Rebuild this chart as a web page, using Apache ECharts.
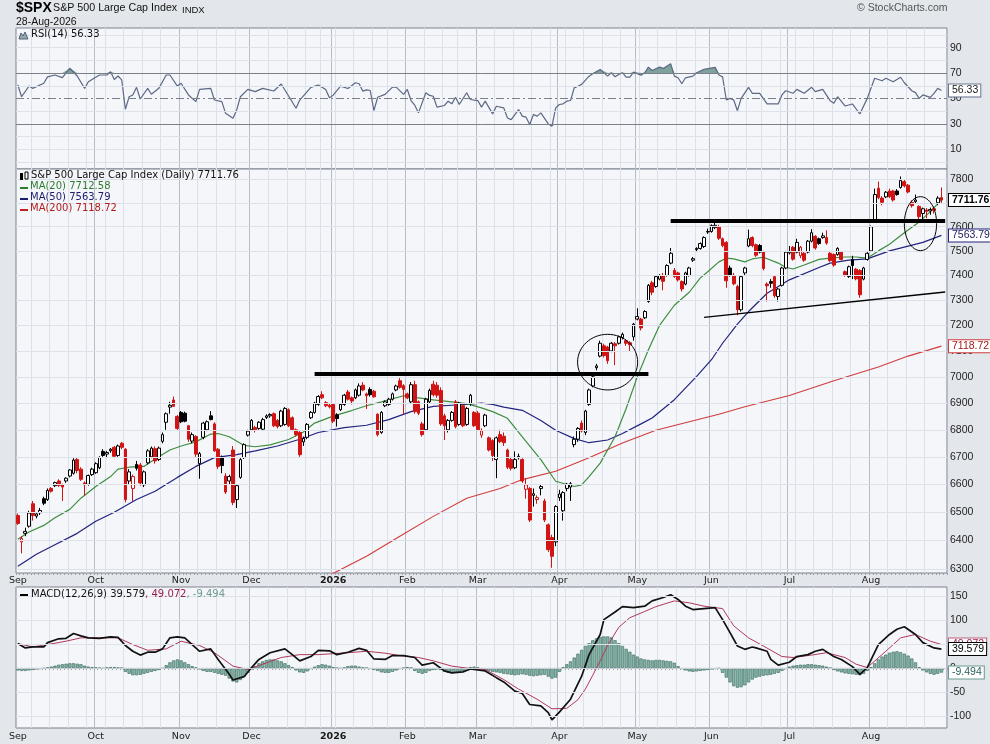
<!DOCTYPE html>
<html>
<head>
<meta charset="utf-8">
<title>$SPX - S&amp;P 500 Large Cap Index</title>
<script src="https://cdn.jsdelivr.net/npm/echarts@6.0.0/dist/echarts.min.js"></script>
<style>
html,body{margin:0;padding:0;background:#e3e6eb;}
#chart{width:990px;height:744px;}
</style>
</head>
<body>
<div id="chart"></div>
<script>
// ---------------- calendar ----------------
const firstDay = '2025-09-02';
const lastDay = '2026-08-28';
const holidays = ['2025-11-27','2025-12-25','2026-01-01','2026-01-19','2026-02-16','2026-04-03','2026-05-25','2026-06-19','2026-07-03'];
const monthNames = ['Jan','Feb','Mar','Apr','May','Jun','Jul','Aug','Sep','Oct','Nov','Dec'];

// ---------------- daily OHLC ----------------
const opens = [
6488,6395,6425,6450,6530,6486,6498,6548,6545,6585,
6595,6612,6598,6612,6630,6640,6690,6655,6605,6600,
6635,6642,6660,6720,6710,6722,6735,6705,6750,6728,
6612,6585,6672,6670,6598,6678,6700,6730,6690,6757,
6828,6885,6912,6850,6865,6862,6815,6758,6775,6675,
6772,6800,6852,6822,6728,6698,6630,6612,6725,6545,
6625,6697,6780,6800,6808,6805,6802,6846,6852,6860,
6835,6815,6820,6875,6845,6800,6790,6755,6772,6845,
6865,6895,6932,6902,6892,6895,6856,6875,6895,6942,
6920,6920,6930,6968,6935,6952,6945,6858,6790,6890,
6895,6915,6950,6985,6966,6935,6905,6970,6905,6822,
6800,6905,6972,6968,6948,6852,6800,6835,6905,6820,
6890,6820,6898,6865,6862,6780,6815,6770,6760,6690,
6782,6776,6725,6690,6660,6697,6690,6582,6585,6560,
6545,6585,6540,6455,6410,6395,6552,6505,6585,6590,
6745,6765,6825,6790,6895,6965,7035,7080,7120,7115,
7100,7128,7130,7152,7140,7132,7155,7225,7225,7230,
7295,7370,7355,7385,7400,7400,7450,7420,7410,7375,
7365,7400,7462,7505,7510,7518,7580,7580,7596,7600,
7550,7535,7430,7400,7355,7262,7410,7520,7555,7525,
7522,7495,7365,7375,7395,7315,7360,7430,7492,7515,
7495,7480,7490,7495,7540,7560,7550,7555,7555,7490,
7485,7485,7495,7415,7395,7465,7425,7420,7385,7465,
7500,7630,7762,7720,7725,7750,7750,7750,7765,7790,
7775,7702,7705,7685,7655,7670,7666,7675,7700,7722];
const highs = [
6495,6415,6445,6505,6540,6500,6515,6555,6585,6590,
6610,6618,6602,6625,6655,6695,6698,6662,6610,6635,
6660,6680,6702,6728,6722,6732,6740,6745,6755,6732,
6655,6635,6685,6678,6650,6728,6738,6738,6738,6790,
6865,6905,6925,6855,6870,6868,6818,6790,6780,6718,
6830,6835,6870,6828,6732,6705,6640,6635,6740,6600,
6695,6750,6800,6840,6815,6832,6845,6858,6862,6865,
6840,6875,6885,6880,6850,6805,6795,6775,6825,6870,
6905,6930,6945,6908,6898,6900,6862,6900,6935,6950,
6925,6955,6975,6980,6940,6960,6950,6862,6870,6910,
6920,6940,6970,6995,6972,6940,6980,6985,6910,6830,
6920,6955,6985,6980,6960,6860,6840,6870,6912,6905,
6895,6885,6935,6870,6870,6805,6860,6775,6765,6775,
6800,6790,6730,6700,6720,6712,6695,6622,6590,6585,
6560,6600,6548,6460,6420,6525,6580,6575,6605,6608,
6775,6810,6835,6875,6955,7010,7050,7140,7128,7120,
7135,7135,7160,7172,7145,7138,7210,7268,7230,7260,
7365,7378,7400,7405,7410,7445,7512,7430,7415,7380,
7415,7435,7475,7515,7535,7560,7592,7610,7630,7608,
7555,7540,7440,7410,7362,7400,7435,7588,7560,7530,
7528,7500,7372,7385,7400,7350,7435,7500,7520,7520,
7550,7520,7495,7545,7590,7565,7555,7575,7585,7495,
7490,7515,7500,7420,7440,7480,7430,7425,7435,7495,
7605,7760,7790,7728,7750,7760,7755,7758,7812,7800,
7780,7710,7735,7690,7680,7678,7680,7685,7728,7765];
const lows = [
6455,6355,6415,6445,6470,6478,6490,6525,6540,6570,
6590,6590,6540,6605,6625,6635,6640,6612,6560,6595,
6630,6638,6655,6700,6695,6715,6695,6700,6728,6535,
6600,6540,6650,6595,6590,6672,6695,6675,6685,6750,
6800,6860,6885,6800,6825,6828,6755,6750,6700,6620,
6765,6795,6835,6718,6655,6640,6565,6600,6525,6515,
6620,6692,6775,6795,6790,6800,6798,6840,6845,6810,
6805,6810,6815,6810,6795,6775,6700,6740,6765,6840,
6860,6890,6915,6885,6880,6825,6812,6870,6890,6910,
6895,6915,6925,6945,6878,6925,6920,6775,6785,6885,
6890,6910,6945,6955,6858,6915,6900,6860,6855,6775,
6795,6900,6925,6920,6815,6762,6790,6830,6805,6815,
6810,6815,6890,6810,6795,6770,6810,6720,6685,6622,
6750,6740,6655,6650,6655,6690,6605,6548,6465,6520,
6530,6560,6465,6360,6305,6380,6540,6470,6575,6540,
6735,6755,6790,6780,6890,6960,7025,7075,7075,7050,
7095,7045,7125,7145,7120,7100,7140,7220,7180,7225,
7290,7320,7350,7380,7340,7395,7445,7390,7375,7335,
7360,7395,7455,7495,7505,7512,7570,7575,7590,7545,
7515,7350,7395,7360,7240,7255,7400,7515,7515,7475,
7490,7420,7295,7350,7310,7295,7355,7425,7485,7460,
7490,7470,7455,7490,7535,7505,7525,7550,7525,7455,
7435,7480,7460,7395,7390,7385,7380,7310,7380,7460,
7495,7625,7715,7690,7720,7720,7705,7730,7760,7765,
7740,7680,7695,7630,7620,7635,7650,7655,7690,7700];
const closes = [
6460,6407,6432,6497,6488,6494,6506,6532,6578,6575,
6606,6596,6590,6622,6652,6688,6650,6618,6598,6632,
6655,6675,6698,6705,6716,6728,6702,6740,6735,6545,
6645,6628,6658,6605,6645,6722,6732,6685,6732,6782,
6860,6892,6888,6805,6830,6832,6765,6782,6710,6712,
6825,6830,6838,6722,6665,6668,6572,6628,6535,6595,
6690,6745,6795,6835,6800,6828,6838,6852,6857,6815,
6812,6870,6880,6815,6800,6782,6708,6768,6820,6865,
6900,6925,6920,6890,6886,6832,6842,6895,6930,6915,
6908,6950,6965,6950,6928,6932,6924,6782,6865,6905,
6915,6935,6965,6960,6952,6920,6970,6868,6862,6782,
6915,6948,6932,6930,6822,6815,6835,6865,6812,6900,
6815,6880,6930,6815,6800,6796,6855,6725,6705,6770,
6756,6752,6662,6658,6690,6702,6612,6598,6472,6566,
6552,6592,6472,6368,6345,6520,6565,6570,6600,6602,
6765,6805,6795,6870,6950,7000,7042,7130,7082,7062,
7130,7120,7155,7165,7130,7124,7205,7235,7190,7255,
7360,7332,7395,7400,7376,7440,7490,7396,7382,7345,
7410,7430,7468,7510,7530,7555,7578,7605,7606,7552,
7522,7378,7402,7366,7262,7395,7430,7550,7522,7482,
7495,7428,7358,7368,7318,7345,7430,7495,7498,7466,
7535,7515,7462,7540,7575,7512,7530,7562,7532,7460,
7442,7510,7465,7402,7435,7440,7386,7322,7430,7490,
7600,7735,7722,7702,7745,7726,7712,7735,7795,7772,
7746,7688,7712,7642,7675,7664,7672,7668,7720,7711.76];

// ---------------- moving averages (read at sampled trading-day indices) ----------------
const ma20Points = [[0,6404],[3,6430],[7,6453],[10,6480],[14,6510],[17,6550],[21,6592],[25,6628],[27,6655],[30,6662],[34,6665],[37,6692],[41,6725],[44,6740],[48,6755],[52,6784],[54,6786],[57,6774],[61,6742],[64,6737],[68,6744],[73,6764],[77,6792],[80,6825],[85,6851],[90,6872],[94,6890],[98,6905],[104,6928],[108,6920],[112,6912],[117,6905],[121,6898],[125,6882],[128,6868],[132,6843],[136,6774],[141,6690],[145,6611],[150,6592],[152,6598],[154,6628],[157,6677],[161,6774],[164,6880],[167,7000],[170,7105],[173,7200],[177,7280],[181,7332],[184,7390],[186,7415],[189,7455],[191,7470],[193,7467],[196,7455],[198,7467],[201,7474],[205,7450],[207,7433],[209,7426],[212,7442],[216,7465],[219,7470],[223,7475],[226,7475],[229,7470],[232,7500],[235,7527],[239,7575],[243,7620],[246,7663],[249,7712.58]];
const ma50Points = [[0,6310],[5,6352],[10,6385],[16,6425],[21,6468],[26,6500],[32,6545],[37,6575],[43,6625],[48,6665],[53,6697],[59,6708],[64,6722],[70,6740],[76,6765],[81,6790],[88,6808],[94,6817],[100,6838],[106,6868],[112,6888],[117,6892],[121,6895],[125,6900],[128,6895],[131,6885],[136,6873],[141,6835],[145,6798],[150,6767],[154,6752],[159,6762],[163,6786],[168,6822],[171,6844],[177,6913],[183,7002],[187,7066],[190,7130],[194,7205],[197,7255],[202,7328],[208,7382],[216,7432],[219,7450],[224,7462],[229,7467],[235,7500],[244,7535],[249,7563.79]];
const ma200Points = [[82,6266],[86,6292],[94,6345],[103,6415],[112,6485],[121,6550],[130,6585],[136,6617],[145,6647],[154,6697],[163,6751],[172,6798],[181,6830],[189,6858],[196,6886],[208,6929],[220,6985],[232,7038],[240,7080],[249,7118.72]];

// ---------------- RSI(14) ----------------
const rsiPoints = [[0,60.6],[1,51.4],[3,59.8],[4,58],[7,62],[8,67],[10,68.5],[12,66.4],[14,73.8],[16,67.7],[18,58],[19,63.2],[22,68.5],[24,68.5],[25,71.1],[26,65],[27,67.7],[28,64.6],[29,41.5],[30,51.4],[31,52.8],[32,58.8],[33,49.6],[35,58],[36,53.3],[38,58],[40,68.5],[41,68.5],[43,59.8],[44,62],[46,52.8],[48,47.5],[49,57.2],[52,58],[53,48.8],[55,47.5],[56,38.3],[58,34.4],[59,41],[60,51.4],[62,57.2],[64,55.4],[66,58],[69,55.9],[71,61.4],[73,52],[75,42.3],[76,48.8],[79,58.8],[81,60.6],[83,57.1],[84,50.5],[85,52.6],[87,59.7],[89,57.9],[91,62.4],[92,61.6],[93,55.8],[94,56.8],[95,56.3],[96,40.5],[97,51],[99,53.2],[101,58.9],[102,58.9],[104,53.2],[105,57.1],[106,48.4],[107,44.7],[108,38.7],[110,54.5],[111,52.4],[112,51.8],[113,43.2],[115,44.5],[116,47.9],[117,45.8],[118,51],[119,45.3],[121,54.5],[122,49.2],[124,48.4],[125,43.2],[126,47.9],[128,37.9],[129,43.9],[131,42.6],[132,34.7],[133,33.4],[135,41.3],[136,36.1],[137,35.3],[138,29.5],[139,37.4],[140,36.1],[141,38.7],[143,30],[144,28.2],[145,42.6],[146,45.3],[147,45.8],[148,47.9],[149,48.4],[150,58.4],[151,59.7],[152,61.1],[154,67.6],[155,69.5],[157,72.9],[159,67.6],[160,70.3],[161,67.1],[162,68.9],[163,70.3],[164,66.8],[165,66.8],[166,70.8],[168,68.4],[169,70.3],[170,74.7],[171,72.1],[173,74.7],[174,73.7],[176,77.4],[177,67.6],[178,66.3],[179,61.6],[180,66.3],[182,67.6],[183,70.3],[185,72.9],[188,74.5],[189,68.5],[190,67],[191,48.8],[192,50.1],[193,48.8],[194,40.4],[195,50.1],[197,58.8],[198,54.1],[200,54.1],[202,45.7],[205,45.7],[206,52.8],[207,56.1],[209,54.1],[210,57.2],[212,54.1],[214,58.8],[215,55.4],[217,57.2],[219,48.3],[220,46.2],[221,51.4],[223,44.1],[225,45.7],[227,37.8],[229,50.1],[231,65.9],[233,64],[234,65.9],[236,63.2],[238,66.7],[239,62.4],[241,56.1],[242,54.6],[243,50.1],[244,52.8],[246,50.9],[247,54.1],[248,58],[249,56.33]];

// ---------------- MACD(12,26,9) ----------------
const macdPoints = [[0,51],[2,42],[4,44],[7,44],[8,53],[11,61],[13,62],[15,72],[17,67],[19,63],[22,62],[25,65],[27,64],[29,47],[31,35],[33,27],[35,33],[37,33],[39,40],[41,63],[43,65],[45,63],[47,49],[49,35],[52,40],[54,18],[57,-13],[58,-25],[61,-18],[63,1],[65,18],[68,32],[72,40],[74,28],[76,15],[79,24],[81,37],[84,36],[86,28],[89,33],[92,41],[94,37],[96,19],[99,18],[101,26],[104,26],[107,22],[109,6],[112,11],[115,-6],[117,-10],[120,-8],[122,-2],[126,-6],[129,-20],[131,-29],[134,-48],[136,-53],[138,-76],[141,-79],[143,-93],[144,-108],[146,-92],[149,-65],[152,-17],[154,28],[157,70],[158,101],[161,117],[163,128],[166,126],[169,129],[171,140],[174,147],[176,153],[178,143],[180,129],[182,122],[185,124],[188,126],[190,101],[192,74],[194,46],[196,39],[198,44],[199,42],[202,35],[203,18],[205,6],[208,12],[210,24],[213,28],[215,35],[217,39],[220,24],[222,18],[225,3],[227,-13],[229,1],[232,49],[235,70],[237,81],[239,86],[242,70],[244,53],[247,42],[249,39.579]];
const signalPoints = [[0,51],[4,44],[8,49],[13,56],[17,63],[22,63],[27,63],[31,49],[35,37],[40,40],[44,56],[49,47],[53,32],[58,4],[62,-3],[66,8],[71,22],[76,28],[81,28],[89,32],[94,35],[99,31],[103,26],[108,22],[112,15],[117,4],[122,-1],[126,-3],[131,-24],[135,-44],[140,-65],[144,-85],[148,-84],[151,-66],[153,-44],[155,-15],[157,15],[159,47],[162,85],[165,105],[169,118],[172,128],[177,140],[181,136],[185,129],[190,124],[193,88],[197,63],[201,46],[206,24],[209,22],[214,27],[218,32],[223,22],[226,8],[229,1],[234,35],[238,63],[242,70],[246,56],[249,49.072]];
const histValues = [
-5,-6,-6,-5,-4,-3,-2,-1,1,3,
5,7,8,9,10,10,9,8,5,3,
2,1,0,-1,1,2,2,1,0,-8,
-12,-15,-15,-14,-12,-10,-8,-6,-4,-1,
6,12,16,18,16,12,8,4,1,-3,
-6,-8,-8,-10,-12,-14,-16,-22,-28,-30,
-25,-18,-10,-3,4,10,14,17,18,18,
16,14,10,6,2,-5,-9,-10,-7,-2,
3,6,8,7,5,2,0,-1,1,4,
5,5,3,1,0,-2,-4,-6,-9,-10,
-10,-8,-5,-2,0,2,1,-6,-10,-12,
-10,-6,-4,-3,-4,-8,-10,-11,-10,-8,
-6,-2,2,3,1,-2,-4,-6,-8,-9,
-10,-12,-13,-14,-15,-14,-13,-14,-16,-17,
-16,-15,-14,-18,-22,-20,-8,2,8,14,
22,30,38,46,52,58,62,65,66,66,
64,58,52,46,40,34,28,24,20,18,
17,16,17,17,16,15,14,11,4,-2,
-5,-7,-8,-7,-6,-5,-4,-3,-2,-1,
-10,-20,-30,-38,-41,-40,-36,-30,-24,-20,
-18,-16,-15,-14,-12,-10,-6,-2,3,5,
6,7,7,8,8,7,6,5,3,0,
-4,-7,-9,-11,-12,-13,-14,-15,-12,-6,
2,10,18,24,28,32,34,35,33,30,
26,20,12,2,-5,-9,-12,-14,-12,-9.494];

// ---------------- axis ticks / annotations ----------------
const rsiTicks = [10, 30, 50, 70, 90];
const rsiLightLevels = [0, 10, 20, 40, 60, 80, 90, 100];
const priceTicks = [6300,6400,6500,6600,6700,6800,6900,7000,7100,7200,7300,7400,7500,7600,7700,7800];
const macdTicks = [-100, -50, 0, 50, 100, 150];
const lastValues = {close: 7711.76, ma20: 7712.58, ma50: 7563.79, ma200: 7118.72, rsi: 56.33, macd: 39.579, signal: 49.072, hist: -9.494};
const resistanceLines = [[80, 170, 7010], [176, 250, 7625]];   // [fromIdx, toIdx, price]
const trendLine = [[185, 7232], [250, 7333]];                  // [idx, price]
const ellipses = [[150.9, 167.1, 7165, 6950], [239.0, 247.7, 7726, 7501]]; // [idx0, idx1, priceTop, priceBottom]

// ---------------- build ----------------
const dates = [];
(function () {
  const hol = new Set(holidays);
  let t = Date.parse(firstDay + 'T00:00:00Z');
  const end = Date.parse(lastDay + 'T00:00:00Z');
  while (t <= end) {
    const d = new Date(t);
    const wd = d.getUTCDay();
    const s = d.toISOString().slice(0, 10);
    if (wd !== 0 && wd !== 6 && !hol.has(s)) dates.push(s);
    t += 86400000;
  }
})();
const cats = dates.concat(['']);
const monthStart = new Set();
const weekStart = new Set();
dates.forEach((s, i) => {
  if (i === 0 || s.slice(5, 7) !== dates[i - 1].slice(5, 7)) monthStart.add(i);
  const wd = new Date(s + 'T00:00:00Z').getUTCDay();
  if (i === 0 || wd <= new Date(dates[i - 1] + 'T00:00:00Z').getUTCDay()) weekStart.add(i);
});

const F_V = 'DejaVu Sans';
const F_A = 'Liberation Sans';
const PANEL_BG = '#f4f6fa';
const GRID_LIGHT = '#dde1e9';
const MONTH_LINE = '#b7bcc6';
const BORDER = '#7c818c';
const RED = '#d11414';
const CLEAR = 'rgba(0,0,0,0)';

const candleData = closes.map((c, i) => {
  const o = opens[i];
  const prev = i > 0 ? closes[i - 1] : o;
  const col = c >= prev ? '#000000' : RED;
  const fill = c > o ? '#ffffff' : col;
  return {value: [o, c, lows[i], highs[i]],
    itemStyle: {color: fill, color0: fill, borderColor: col, borderColor0: col, borderWidth: 1}};
});

function monthLabel(value) {
  const m = +value.slice(5, 7);
  return m === 1 ? '{y|' + value.slice(0, 4) + '}' : monthNames[m - 1];
}
function xAxes(gridIndex, showLabels, margin) {
  return [
    {type: 'category', gridIndex, data: cats, boundaryGap: true, position: 'bottom',
     axisLine: {show: false},
     axisTick: {show: showLabels, interval: 0, length: 2, lineStyle: {color: '#9aa0aa'}},
     axisLabel: {show: false},
     splitLine: {show: true, interval: (i) => weekStart.has(i), lineStyle: {color: GRID_LIGHT, width: 1}}},
    {type: 'category', gridIndex, data: cats, boundaryGap: true, position: 'bottom',
     axisLine: {show: false}, axisTick: {show: false},
     axisLabel: {show: showLabels, interval: (i) => monthStart.has(i), formatter: monthLabel,
       margin: margin, fontFamily: F_V, fontSize: 9.5, color: '#1a1a1a',
       rich: {y: {fontFamily: F_V, fontSize: 9.5, fontWeight: 'bold', color: '#1a1a1a'}}},
     splitLine: {show: true, interval: (i) => monthStart.has(i), lineStyle: {color: MONTH_LINE, width: 1}}}
  ];
}
function hiddenY(gridIndex, extra) {
  return Object.assign({gridIndex, position: 'right', axisLine: {show: false}, axisTick: {show: false},
    axisLabel: {show: false}, splitLine: {show: false}}, extra);
}
function gridLine(v, color, type, withLabel, fmt) {
  return {yAxis: v, lineStyle: {color: color, type: type || 'solid', width: 1},
    label: {show: withLabel, position: 'end', distance: 3, formatter: fmt || String(v),
      color: '#222', fontFamily: F_A, fontSize: 10.5}};
}
function tag(v, text, txtColor, borderColor, bold) {
  return {yAxis: v, lineStyle: {color: CLEAR, width: 1},
    label: {show: true, position: 'end', distance: 2, formatter: text, color: txtColor,
      fontFamily: F_A, fontSize: 10.5, fontWeight: bold ? 'bold' : 'normal',
      backgroundColor: '#ffffff', borderColor: borderColor, borderWidth: 1, padding: [1, 2, 0, 3]}};
}
function markLineOf(data) {
  return {silent: true, symbol: ['none', 'none'], animation: false, data: data};
}

const rsiGrid = rsiLightLevels.map(v => gridLine(v, GRID_LIGHT, 'solid', false))
  .concat([gridLine(70, '#7a7f88', 'solid', false), gridLine(30, '#7a7f88', 'solid', false),
           gridLine(50, '#7a7f88', [8, 3, 2, 3], false)])
  .concat(rsiTicks.map(v => ({yAxis: v, lineStyle: {color: CLEAR, width: 1},
    label: {show: true, position: 'end', distance: 3, formatter: String(v), color: '#222', fontFamily: F_A, fontSize: 10.5}})));
const priceGrid = priceTicks.map(v => gridLine(v, GRID_LIGHT, 'solid', true));
const macdGrid = macdTicks.map(v => gridLine(v, v === 0 ? '#c9ced8' : GRID_LIGHT, 'solid', true));

const annotationLines = resistanceLines.map(r => [
  {coord: [r[0], r[2]], lineStyle: {color: '#000', width: 4, type: 'solid'}},
  {coord: [r[1], r[2]]}
]).concat([[
  {coord: trendLine[0], lineStyle: {color: '#000', width: 1.3, type: 'solid'}},
  {coord: trendLine[1]}
]]);

const option = {
  backgroundColor: '#e3e6eb',
  animation: false,
  grid: [
    {left: 16, right: 43, top: 28, height: 141, show: true, backgroundColor: PANEL_BG, borderColor: BORDER, borderWidth: 1},
    {left: 16, right: 43, top: 169, height: 404, show: true, backgroundColor: PANEL_BG, borderColor: BORDER, borderWidth: 1},
    {left: 16, right: 43, top: 587, height: 141, show: true, backgroundColor: PANEL_BG, borderColor: BORDER, borderWidth: 1}
  ],
  xAxis: [].concat(xAxes(0, false, 2), xAxes(1, true, 3), xAxes(2, true, 4)),
  yAxis: [
    hiddenY(0, {type: 'value', min: -5.5, max: 105.5}),
    hiddenY(1, {type: 'log', min: 6287, max: 7844, logBase: 10}),
    hiddenY(2, {type: 'value', min: -125, max: 169})
  ],
  series: [
    // RSI panel
    {name: 'rsiGrid', type: 'line', xAxisIndex: 1, yAxisIndex: 0, data: [], z: 1, markLine: markLineOf(rsiGrid)},
    {name: 'rsiHi', type: 'line', xAxisIndex: 1, yAxisIndex: 0, z: 2, symbol: 'none', silent: true,
     data: rsiPoints.map(p => [p[0], Math.max(p[1], 70)]), lineStyle: {color: CLEAR, width: 0},
     areaStyle: {origin: 70, color: '#7fa39c', opacity: 1}},
    {name: 'rsiLo', type: 'line', xAxisIndex: 1, yAxisIndex: 0, z: 2, symbol: 'none', silent: true,
     data: rsiPoints.map(p => [p[0], Math.min(p[1], 30)]), lineStyle: {color: CLEAR, width: 0},
     areaStyle: {origin: 30, color: '#7fa39c', opacity: 1}},
    {name: 'RSI(14)', type: 'line', xAxisIndex: 1, yAxisIndex: 0, z: 3, symbol: 'none', data: rsiPoints,
     lineStyle: {color: '#5c6884', width: 1.2}},
    {name: 'rsiTag', type: 'line', xAxisIndex: 1, yAxisIndex: 0, data: [], z: 10,
     markLine: markLineOf([tag(lastValues.rsi, '56.33', '#222', '#6b7590', false)])},
    // price panel
    {name: 'priceGrid', type: 'line', xAxisIndex: 3, yAxisIndex: 1, data: [], z: 1, markLine: markLineOf(priceGrid)},
    {name: 'MA(200)', type: 'line', xAxisIndex: 3, yAxisIndex: 1, z: 3, symbol: 'none', data: ma200Points,
     lineStyle: {color: '#d23c3c', width: 1.1}},
    {name: 'MA(50)', type: 'line', xAxisIndex: 3, yAxisIndex: 1, z: 3, symbol: 'none', data: ma50Points,
     lineStyle: {color: '#23237e', width: 1.2}},
    {name: 'MA(20)', type: 'line', xAxisIndex: 3, yAxisIndex: 1, z: 3, symbol: 'none', data: ma20Points,
     lineStyle: {color: '#3e8e3e', width: 1.2}},
    {name: 'SPX', type: 'candlestick', xAxisIndex: 3, yAxisIndex: 1, z: 4, barWidth: 3.2, data: candleData},
    {name: 'annotations', type: 'line', xAxisIndex: 3, yAxisIndex: 1, data: [], z: 6, markLine: markLineOf(annotationLines)},
    {name: 'priceTags', type: 'line', xAxisIndex: 3, yAxisIndex: 1, data: [], z: 10,
     markLine: markLineOf([
       tag(lastValues.ma200, '7118.72', '#a01c1c', '#d23c3c', false),
       tag(lastValues.ma50, '7563.79', '#1c1c5c', '#23237e', false),
       tag(lastValues.close, '7711.76', '#000', '#000', true)])},
    // MACD panel
    {name: 'macdGrid', type: 'line', xAxisIndex: 5, yAxisIndex: 2, data: [], z: 1, markLine: markLineOf(macdGrid)},
    {name: 'hist', type: 'bar', xAxisIndex: 5, yAxisIndex: 2, z: 2, data: histValues, barCategoryGap: '12%',
     itemStyle: {color: '#84b4a7', borderColor: '#467468', borderWidth: 0.7}},
    {name: 'signal', type: 'line', xAxisIndex: 5, yAxisIndex: 2, z: 3, symbol: 'none', data: signalPoints,
     lineStyle: {color: '#b0385a', width: 1}},
    {name: 'MACD', type: 'line', xAxisIndex: 5, yAxisIndex: 2, z: 4, symbol: 'none', data: macdPoints,
     lineStyle: {color: '#111', width: 1.7}},
    {name: 'macdTags', type: 'line', xAxisIndex: 5, yAxisIndex: 2, data: [], z: 10,
     markLine: markLineOf([
       tag(lastValues.signal, '49.072', '#9b2050', '#c0607a', false),
       tag(lastValues.macd, '39.579', '#000', '#000', false),
       tag(lastValues.hist, '-9.494', '#2f5f58', '#6a9a90', false)])}
  ]
};

const chart = echarts.init(document.getElementById('chart'), null, {renderer: 'canvas'});
chart.setOption(option);

// ---------- texts and ellipses (positioned through the chart's own scales) ----------
function xAt(f) {
  const a = Math.floor(f);
  const p0 = chart.convertToPixel({xAxisIndex: 3}, a);
  const p1 = chart.convertToPixel({xAxisIndex: 3}, a + 1);
  return p0 + (p1 - p0) * (f - a);
}
function yAt(p) { return chart.convertToPixel({yAxisIndex: 1}, p); }

function txt(left, top, text, size, color, family, weight) {
  return {type: 'text', left: left, top: top, z: 50, silent: true,
    style: {text: text, fontSize: size, fill: color, fontFamily: family || F_V, fontWeight: weight || 'normal'}};
}
function dash(x, y, color) {
  return {type: 'rect', z: 50, silent: true, shape: {x: x, y: y, width: 8, height: 2}, style: {fill: color}};
}

const graphics = [
  txt(16, 1, '$SPX', 14, '#000', F_A, 'bold'),
  txt(53, 3, 'S&P 500 Large Cap Index', 10.7, '#111', F_A),
  txt(182, 5, 'INDX', 9.5, '#111', F_A),
  txt(16, 17, '28-Aug-2026', 10.5, '#111', F_A),
  txt(857, 3, '\u00A9 StockCharts.com', 10.5, '#555', F_A),
  // RSI legend
  {type: 'polygon', z: 50, silent: true, shape: {points: [[19, 39], [21, 33], [23, 36], [25, 32], [28, 39]]},
   style: {fill: '#8eaaa3', stroke: '#55607a', lineWidth: 1}},
  txt(31, 29, 'RSI(14) 56.33', 10, '#111'),
  // price legend
  {type: 'rect', z: 50, silent: true, shape: {x: 20, y: 173, width: 3, height: 7}, style: {fill: '#000'}},
  {type: 'rect', z: 50, silent: true, shape: {x: 25, y: 172, width: 3, height: 7}, style: {fill: '#fff', stroke: '#000', lineWidth: 1}},
  txt(31, 170, 'S&P 500 Large Cap Index (Daily) 7711.76', 10, '#111'),
  dash(20, 187, '#2e7d2e'), txt(30, 181, 'MA(20) 7712.58', 10, '#2e7d2e'),
  dash(20, 198, '#1c1c6c'), txt(30, 192, 'MA(50) 7563.79', 10, '#1c1c6c'),
  dash(20, 209, '#c02020'), txt(30, 203, 'MA(200) 7118.72', 10, '#b01c1c'),
  // MACD legend
  dash(20, 594, '#000'),
  {type: 'text', left: 31, top: 589, z: 50, silent: true,
   style: {text: '{k|MACD(12,26,9) 39.579}{r|, 49.072}{g|, -9.494}', fontSize: 10, fontFamily: F_V,
     rich: {k: {fill: '#111', fontSize: 10, fontFamily: F_V},
            r: {fill: '#9b2050', fontSize: 10, fontFamily: F_V},
            g: {fill: '#6f9a92', fontSize: 10, fontFamily: F_V}}}}
];

ellipses.forEach(e => {
  const x0 = xAt(e[0]), x1 = xAt(e[1]);
  const y0 = yAt(e[2]), y1 = yAt(e[3]);
  graphics.push({type: 'ellipse', z: 40, silent: true,
    shape: {cx: (x0 + x1) / 2, cy: (y0 + y1) / 2, rx: Math.abs(x1 - x0) / 2, ry: Math.abs(y1 - y0) / 2},
    style: {fill: null, stroke: '#000', lineWidth: 1}});
});

chart.setOption({graphic: graphics});
</script>
</body>
</html>
